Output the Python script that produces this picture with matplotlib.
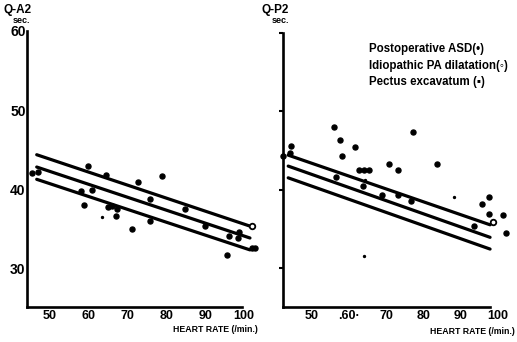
# Q-A2 / Q-P2 interval vs heart rate, two panels
import numpy as np
import matplotlib
matplotlib.use("Agg")
import matplotlib.pyplot as plt

plt.rcParams['font.family'] = ['Liberation Sans', 'DejaVu Sans']
plt.rcParams['font.weight'] = 'bold'

# ---- data ----
# left panel: Q-A2 (sec.)
a2_hr = [45.5, 47.0, 59.9, 64.4, 72.6, 78.8, 58.0, 60.9, 58.8, 65.0, 65.9, 67.2,
         66.9, 71.1, 75.8, 75.8, 84.8, 89.8, 96.2, 98.8, 98.5, 95.5, 102.0, 102.8]
a2_val = [42.1, 42.2, 43.0, 41.9, 41.0, 41.7, 39.8, 39.9, 38.1, 37.8, 37.9, 37.6,
          36.7, 35.0, 38.8, 36.0, 37.6, 35.4, 34.1, 34.7, 33.9, 31.8, 32.7, 32.7]
a2_small_hr = [63.3]
a2_small_val = [36.5]
a2_open_hr = [102.1]
a2_open_val = [35.4]
a2_line_hr = [46.6, 101.5]
a2_line_upper = [44.4, 35.4]
a2_line_mid = [42.85, 33.9]
a2_line_lower = [41.3, 32.4]

# right panel: Q-P2 (sec.)
p2_hr = [42.4, 44.4, 44.2, 55.9, 57.5, 58.2, 61.7, 56.5, 62.8, 64.1, 65.3, 63.7,
         69.0, 70.9, 73.1, 73.2, 76.7, 77.4, 83.7, 93.6, 95.8, 97.8, 97.7, 101.6, 102.2]
p2_val = [44.3, 45.6, 44.7, 48.0, 46.3, 44.3, 45.5, 41.6, 42.5, 42.5, 42.5, 40.4,
          39.3, 43.3, 42.5, 39.3, 38.6, 47.3, 43.3, 35.3, 38.2, 39.1, 36.9, 36.8, 34.4]
p2_small_hr = [64.4, 64.1, 88.3]
p2_small_val = [41.2, 31.5, 39.0]
p2_open_hr = [98.7]
p2_open_val = [35.9]
p2_line_hr = [43.7, 98.0]
p2_line_upper = [44.4, 35.5]
p2_line_mid = [43.0, 33.9]
p2_line_lower = [41.5, 32.4]

y_ticks = [30, 40, 50, 60]
x_ticks = [50, 60, 70, 80, 90, 100]
left_xlabels = ["50", "60", "70", "80", "90", "100"]
right_xlabels = ["50", ".60\u00b7", "70", "80", "90", "100"]
legend_lines = ["Postoperative ASD(\u2022)",
                "Idiopathic PA dilatation(\u25e6)",
                "Pectus excavatum (\u25aa)"]

fig = plt.figure(figsize=(5.17, 3.42), dpi=100)
ax1 = fig.add_axes([27 / 517, 35 / 342, 235 / 517, 276 / 342])
ax2 = fig.add_axes([283 / 517, 35 / 342, 229 / 517, 274 / 342])


def style(ax, xlim, ylim, xend, show_ylabels, xlabels):
    ax.set_xlim(*xlim)
    ax.set_ylim(*ylim)
    for s in ["top", "right"]:
        ax.spines[s].set_visible(False)
    for s in ["left", "bottom"]:
        ax.spines[s].set_linewidth(1.9)
    ax.spines["bottom"].set_bounds(xlim[0], xend)
    ax.set_xticks(x_ticks)
    ax.set_xticklabels(xlabels, fontsize=9, fontweight='bold')
    ax.tick_params(axis="x", length=0, pad=2.5)
    ax.set_yticks(y_ticks)
    if show_ylabels:
        ax.set_yticklabels([str(t) for t in y_ticks], fontsize=10, fontweight='bold')
        ax.tick_params(axis="y", length=0, pad=1)
    else:
        ax.set_yticklabels([])
        ax.tick_params(axis="y", length=3, width=1.5, direction="out")


def draw(ax, hr, val, shr, sval, ohr, oval, lhr, up, mid, lo):
    for ys in (up, mid, lo):
        ax.plot(lhr, ys, color="black", lw=2.3, solid_capstyle="round")
    ax.plot(hr, val, "o", color="black", ms=3.6, clip_on=False)
    ax.plot(shr, sval, "o", color="black", ms=1.4, clip_on=False)
    ax.plot(ohr, oval, "o", mfc="white", mec="black", mew=1.3, ms=4, clip_on=False)


draw(ax1, a2_hr, a2_val, a2_small_hr, a2_small_val, a2_open_hr, a2_open_val,
     a2_line_hr, a2_line_upper, a2_line_mid, a2_line_lower)
draw(ax2, p2_hr, p2_val, p2_small_hr, p2_small_val, p2_open_hr, p2_open_val,
     p2_line_hr, p2_line_upper, p2_line_mid, p2_line_lower)

style(ax1, (44.1, 104.6), (25.2, 60), 99.5, True, left_xlabels)
style(ax2, (42.3, 103.9), (25.0, 60), 98.0, False, right_xlabels)

# axis titles
fig.text(3 / 517, 1 - 10 / 342, "Q-A2", fontsize=8.5, fontweight='bold', va="center")
fig.text(13 / 517, 1 - 20.5 / 342, "sec.", fontsize=6.5, fontweight='bold', va="center")
fig.text(262 / 517, 1 - 10 / 342, "Q-P2", fontsize=8.5, fontweight='bold', va="center")
fig.text(272 / 517, 1 - 20.5 / 342, "sec.", fontsize=6.5, fontweight='bold', va="center")
fig.text(258 / 517, 1 - 330 / 342, "HEART RATE (/min.)", fontsize=6.3,
         fontweight='bold', ha="right", va="center")
fig.text(515 / 517, 1 - 331 / 342, "HEART RATE (/min.)", fontsize=6.3,
         fontweight='bold', ha="right", va="center")

# legend text block
for i, line in enumerate(legend_lines):
    fig.text(369 / 517, 1 - (49 + 16.5 * i) / 342, line, fontsize=8.3,
             fontweight='bold', va="center")

fig.savefig("out.png", dpi=100)
